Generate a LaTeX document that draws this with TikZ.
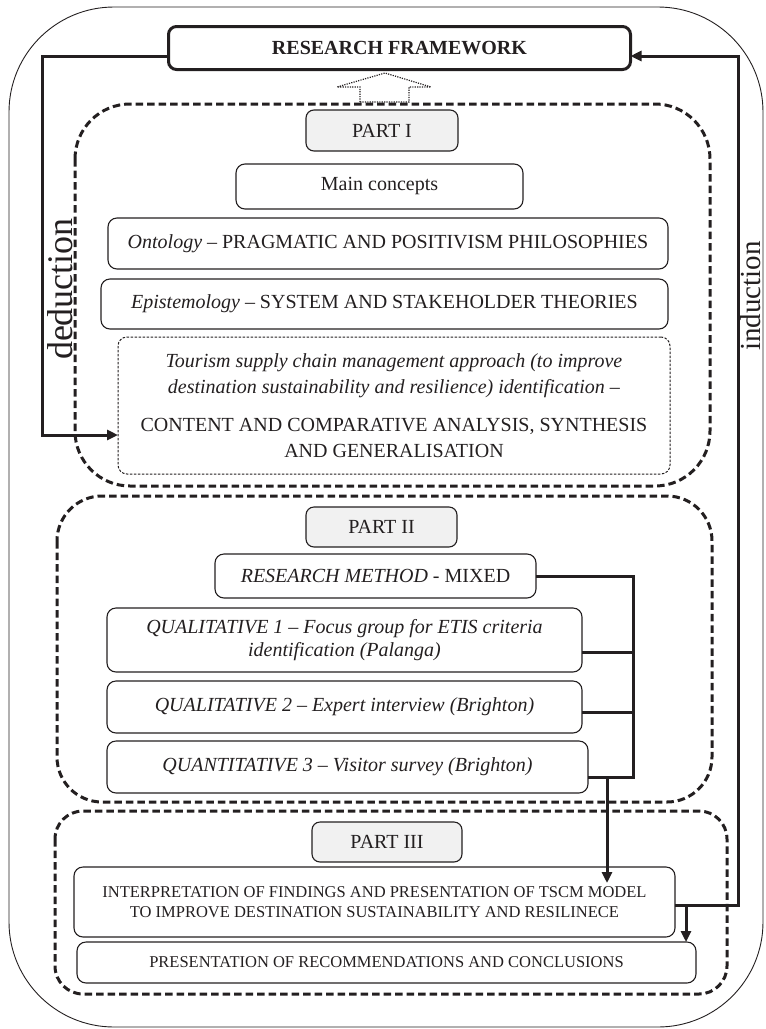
\documentclass[tikz,border=0pt]{standalone}
\usepackage{fontspec}
\setmainfont{Liberation Serif}
\usetikzlibrary{arrows.meta,calc}
\definecolor{ink}{HTML}{231F20}
\definecolor{labelfill}{HTML}{F1F1F1}

\begin{document}
\begin{tikzpicture}[x=1pt,y=-1pt,
  every node/.style={inner sep=0pt, outer sep=0pt, text=ink},
  box/.style={draw=ink, line width=1.1pt, rounded corners=9pt, align=center,
    font=\fontsize{20}{23}\selectfont},
  smallbox/.style={box, font=\fontsize{16.5}{20}\selectfont},
  partlabel/.style={box, fill=labelfill, rounded corners=8pt},
  partframe/.style={draw=ink, line width=3pt, dash pattern=on 7.5pt off 4pt},
  conn/.style={draw=ink, line width=3pt},
  tip/.style={-{Triangle[length=11pt,width=10pt]}},
  sidetext/.style={rotate=90, text=ink},
]
\useasboundingbox (0,0) rectangle (766,1029);

% outer frame
\draw[ink, line width=0.9pt, rounded corners=105pt] (9,7) rectangle (763,1027);

% the three part frames
\draw[partframe, rounded corners=55pt] (75,104) rectangle (710,486);
\draw[partframe, rounded corners=45pt] (57,496) rectangle (712,802);
\draw[partframe, rounded corners=28pt] (55,811) rectangle (727,994);

% title
\node[draw=ink, line width=3pt, rounded corners=8pt, minimum width=462pt, minimum height=43pt,
      font=\fontsize{20}{23}\selectfont\bfseries] (title) at (399.5,48) {RESEARCH FRAMEWORK};

% hollow dotted arrow from part I up to the title
\draw[ink, line width=1.2pt, dash pattern=on 1.2pt off 1.2pt]
  (360,102) -- (360,87) -- (337,87) -- (385,73) -- (431,87) -- (409,87) -- (409,102) -- cycle;

% PART I
\node[partlabel, minimum width=152pt, minimum height=41pt] (p1lab) at (382,130.5) {PART I};
\node[box, minimum width=287pt, minimum height=45pt] (mainc) at (379.5,186.5) {Main concepts};
\node[box, minimum width=560pt, minimum height=51pt] (onto) at (388,243.5)
  {\textit{Ontology} – PRAGMATIC AND POSITIVISM PHILOSOPHIES};
\node[box, minimum width=567pt, minimum height=50pt] (epis) at (384.5,304)
  {\textit{Epistemology} – SYSTEM AND STAKEHOLDER THEORIES};
\node[box, line width=1pt, dash pattern=on 2.5pt off 1.5pt, minimum width=552pt, minimum height=137pt,
      font=\fontsize{20}{25.5}\selectfont] (tour) at (394,405.5)
  {\textit{Tourism supply chain management approach (to improve}\\
   \textit{destination sustainability and resilience) identification –}\\[13pt]
   CONTENT AND COMPARATIVE ANALYSIS, SYNTHESIS\\
   AND GENERALISATION};

% PART II
\node[partlabel, minimum width=151pt, minimum height=40pt] (p2lab) at (381.5,527) {PART II};
\node[box, minimum width=321pt, minimum height=44pt] (rm) at (375.5,576)
  {\textit{RESEARCH METHOD} - MIXED};
\node[box, minimum width=475pt, minimum height=64pt] (q1) at (344.5,640)
  {\textit{QUALITATIVE 1 – Focus group for ETIS criteria}\\ \textit{identification (Palanga)}};
\node[box, minimum width=475pt, minimum height=52pt] (q2) at (344.5,707)
  {\textit{QUALITATIVE 2 – Expert interview (Brighton)}};
\node[box, minimum width=481pt, minimum height=52pt] (q3) at (347.5,767)
  {\textit{QUANTITATIVE 3 – Visitor survey (Brighton)}};

% PART III
\node[partlabel, minimum width=150pt, minimum height=40pt] (p3lab) at (387,842) {PART III};
\node[smallbox, minimum width=601pt, minimum height=70pt] (interp) at (374.5,902)
  {INTERPRETATION OF FINDINGS AND PRESENTATION OF TSCM MODEL\\
   TO IMPROVE DESTINATION SUSTAINABILITY AND RESILINECE};
\node[smallbox, minimum width=619pt, minimum height=41pt] (pres) at (386.5,962.5)
  {PRESENTATION OF RECOMMENDATIONS AND CONCLUSIONS};

% side labels
\node[sidetext, font=\fontsize{36}{36}\selectfont] (ded) at (60,289) {deduction};
\node[sidetext, font=\fontsize{29}{29}\selectfont] (ind) at (750.5,296) {induction};

% deduction: title down the left side into the tourism box
\coordinate (dedTop) at (42,56);
\draw[conn, tip] ($(title.west)+(0,8)$) -- (dedTop) |- ($(tour.west)+(0,29.5)$);

% methods bus of part II and the drop into part III
\coordinate (busTop) at (633,576);
\coordinate (busQ1) at (633,652);
\coordinate (busQ2) at (633,712);
\coordinate (busBot) at (633,777);
\draw[conn] (rm.east) -- (busTop) -- (busBot) -- (q3.east |- busBot);
\draw[conn] (q1.east |- busQ1) -- (busQ1);
\draw[conn] (q2.east |- busQ2) -- (busQ2);
\coordinate (drop) at (607,777);
\coordinate (dropTip) at (607,883);
\draw[conn, tip] (drop) -- (dropTip);

% induction: from the findings box up the right side back to the title
\coordinate (indBot) at (738,905);
\draw[conn, tip] ($(interp.east)+(0,3)$) -- (indBot) |- ($(title.east)+(0,8)$);
\coordinate (presDrop) at (686,905);
\draw[conn, tip] (presDrop) -- (presDrop |- pres.north);

\end{tikzpicture}
\end{document}
